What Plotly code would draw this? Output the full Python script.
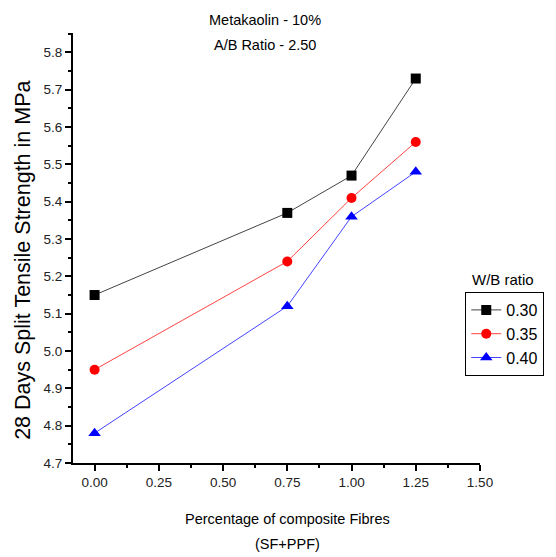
import plotly.graph_objects as go

fibres = [0.00, 0.75, 1.00, 1.25]
wb_labels = ["0.30", "0.35", "0.40"]
strength_030 = [5.15, 5.37, 5.47, 5.73]
strength_035 = [4.95, 5.24, 5.41, 5.56]
strength_040 = [4.78, 5.12, 5.36, 5.48]

series = [
    (wb_labels[0], strength_030, "black", "#444444", "square", 10),
    (wb_labels[1], strength_035, "red", "#ff4444", "circle", 10),
    (wb_labels[2], strength_040, "blue", "#4444ff", "triangle-up", 11),
]

fig = go.Figure()
for name, vals, mc, lc, sym, sz in series:
    fig.add_trace(go.Scatter(
        x=fibres, y=vals, name=name, mode="lines+markers",
        line=dict(color=lc, width=1),
        marker=dict(color=mc, symbol=sym, size=sz, line=dict(width=0)),
    ))

FONT = "Liberation Sans, Arial"
tickfont = dict(family=FONT, size=13.5, color="#222")
# plot area in window pixels: x 73..487, y 33..463
X0, X1, Y0, Y1 = 73, 487, 33, 463
PW, PH = X1 - X0, Y1 - Y0
W, H = 556, 557


def ann(text, px, py, size, **kw):
    return dict(text=text, xref="paper", yref="paper",
                x=(px - X0) / PW, y=(Y1 - py) / PH,
                xanchor="center", yanchor="middle", showarrow=False,
                font=dict(family=FONT, size=size, color="black"), **kw)


fig.update_layout(
    width=W, height=H,
    margin=dict(l=X0, r=W - X1, t=Y0, b=H - Y1),
    paper_bgcolor="white", plot_bgcolor="white",
    showlegend=True,
    legend=dict(
        x=(472 - X0) / PW, y=(Y1 - 292) / PH, xanchor="left", yanchor="top",
        bordercolor="black", borderwidth=1,
        font=dict(family=FONT, size=16, color="black"),
        title=None, tracegroupgap=0, itemwidth=30,
    ),
    xaxis=dict(
        range=[-0.084, 1.5], showgrid=False, zeroline=False,
        showline=True, linecolor="black", linewidth=2,
        ticks="outside", ticklen=6, tickwidth=1.5, tickcolor="black",
        tickvals=[0, 0.25, 0.5, 0.75, 1.0, 1.25, 1.5],
        ticktext=["0.00", "0.25", "0.50", "0.75", "1.00", "1.25", "1.50"],
        minor=dict(ticks="outside", ticklen=3, dtick=0.125, tick0=0, tickcolor="black"),
        tickfont=tickfont,
    ),
    yaxis=dict(
        range=[4.7, 5.852], showgrid=False, zeroline=False,
        showline=True, linecolor="black", linewidth=2,
        ticks="outside", ticklen=6, tickwidth=1.5, tickcolor="black",
        dtick=0.1, tick0=4.7, tickformat=".1f",
        minor=dict(ticks="outside", ticklen=3, dtick=0.05, tick0=4.7, tickcolor="black"),
        tickfont=tickfont,
    ),
    annotations=[
        ann("Metakaolin - 10%", 268, 20, 14.5),
        ann("A/B Ratio - 2.50", 268, 45, 14.5),
        ann("Percentage of composite Fibres", 291, 519, 14.5),
        ann("(SF+PPF)", 291, 544, 14.5),
        ann("28 Days Split Tensile Strength in MPa", 22, 260, 21.5, textangle=-90),
        ann("W/B ratio", 510, 279, 15),
    ],
)

fig.write_html(
    "out.html",
    config={"displayModeBar": False},
    post_script="document.body.style.margin='0px';document.body.style.overflow='hidden';",
)
